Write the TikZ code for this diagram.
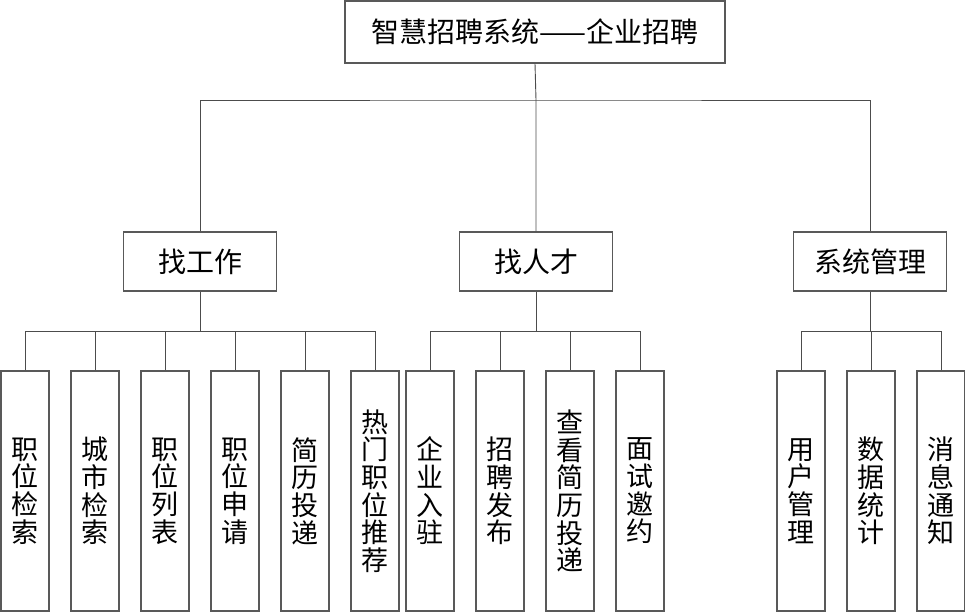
\documentclass[tikz,border=0pt]{standalone}
\usepackage{fontspec}
\newfontfamily\cjk{Noto Sans CJK SC}
\usepackage{tikz}
\usetikzlibrary{positioning, calc}

\begin{document}
\begin{tikzpicture}[x=1pt, y=-1pt,
        topbox/.style={draw=black!65, line width=1.4pt, font=\cjk\fontsize{28}{30}\selectfont,
                       minimum width=380pt, minimum height=62pt, inner sep=0pt},
        midbox/.style={draw=black!65, line width=1.4pt, font=\cjk\fontsize{28}{30}\selectfont,
                       minimum width=153pt, minimum height=59pt, inner sep=0pt},
        leafbox/.style={draw=black!65, line width=1.4pt, font=\cjk\fontsize{27}{27.7}\selectfont,
                        align=center, minimum width=48pt, minimum height=240pt, inner sep=0pt},
        link/.style={draw=black!70, line width=0.9pt},
    ]
    \useasboundingbox (0,0) rectangle (965,612);

    % ---- Root ----
    \node[topbox] (root) at (535, 32) {智慧招聘系统——企业招聘};

    % ---- Three modules ----
    \node[midbox] (job)    at (200, 261.5) {找工作};
    \node[midbox] (talent) at (536, 261.5) {找人才};
    \node[midbox] (admin)  at (870, 261.5) {系统管理};

    % ---- Leaves under 找工作 ----
    \node[leafbox] (jsearch) at (25, 491)  {职\\位\\检\\索};
    \node[leafbox] (csearch) at (95, 491)  {城\\市\\检\\索};
    \node[leafbox] (jlist)   at (165, 491) {职\\位\\列\\表};
    \node[leafbox] (japply)  at (235, 491) {职\\位\\申\\请};
    \node[leafbox] (resume)  at (305, 491) {简\\历\\投\\递};
    \node[leafbox] (hot)     at (375, 491) {热\\门\\职\\位\\推\\荐};

    % ---- Leaves under 找人才 ----
    \node[leafbox] (join)    at (430, 491) {企\\业\\入\\驻};
    \node[leafbox] (post)    at (500, 491) {招\\聘\\发\\布};
    \node[leafbox] (view)    at (570, 491) {查\\看\\简\\历\\投\\递};
    \node[leafbox] (invite)  at (640, 491) {面\\试\\邀\\约};

    % ---- Leaves under 系统管理 ----
    \node[leafbox] (users)   at (801, 491) {用\\户\\管\\理};
    \node[leafbox] (stats)   at (871, 491) {数\\据\\统\\计};
    \node[leafbox] (notify)  at (941, 491) {消\\息\\通\\知};

    % ---- Bus points ----
    \coordinate (bus0) at (536, 100);
    \coordinate (bus1) at (200, 331);
    \coordinate (bus2) at (536, 331);
    \coordinate (bus3) at (870, 331);

    % ---- Connectors ----
    \draw[link] (root.south) -- (bus0) -- (talent.north);
    \draw[link] (job.north) |- (bus0) -| (admin.north);

    \draw[link] (job.south) -- (bus1);
    \foreach \leaf in {jsearch, csearch, jlist, japply, resume, hot}
        \draw[link] (\leaf.north) |- (bus1);

    \draw[link] (talent.south) -- (bus2);
    \foreach \leaf in {join, post, view, invite}
        \draw[link] (\leaf.north) |- (bus2);

    \draw[link] (admin.south) -- (bus3);
    \foreach \leaf in {users, stats, notify}
        \draw[link] (\leaf.north) |- (bus3);

\end{tikzpicture}
\end{document}
